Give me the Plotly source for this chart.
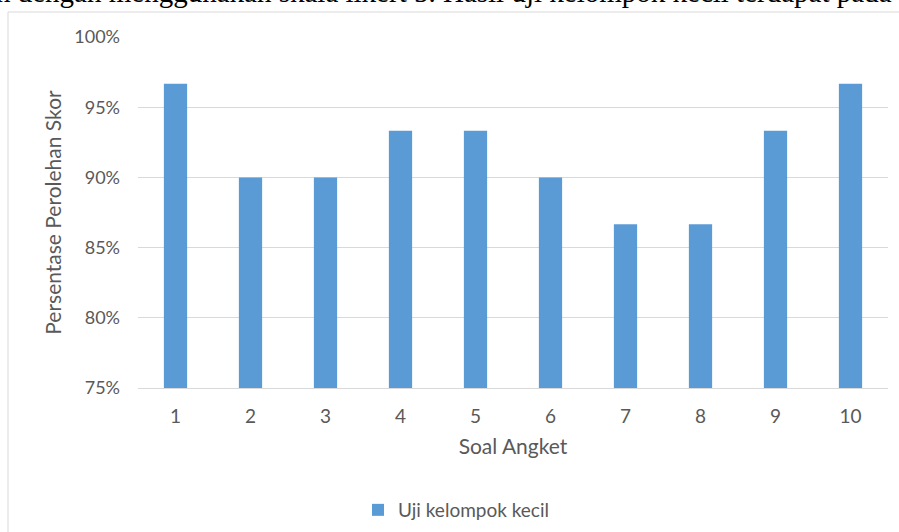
import plotly.graph_objects as go

# Questionnaire items and percentage score from the small-group trial
soal = ["1", "2", "3", "4", "5", "6", "7", "8", "9", "10"]
persentase = [0.9667, 0.90, 0.90, 0.9333, 0.9333, 0.90, 0.8667, 0.8667, 0.9333, 0.9667]
y_ticks = [0.75, 0.80, 0.85, 0.90, 0.95, 1.00]

W, H = 899, 532
L, R, T, B = 138, 11, 37, 144
pw, ph = W - L - R, H - T - B


def px_x(x):
    return (x - L) / pw


def px_y(y):
    return (H - B - y) / ph


GREY = "#595959"
FONT = "Lato, 'Open Sans', sans-serif"

fig = go.Figure()
fig.add_trace(go.Bar(
    x=soal, y=persentase, name="Uji kelompok kecil",
    marker=dict(color="#5B9BD5", line=dict(width=0)),
    width=0.31,
))

fig.update_layout(
    width=W, height=H,
    margin=dict(l=L, r=R, t=T, b=B, autoexpand=False),
    paper_bgcolor="white", plot_bgcolor="white",
    font=dict(family=FONT, color=GREY, size=14),
    showlegend=True,
    legend=dict(
        orientation="h", x=px_x(358), xanchor="left",
        y=px_y(510), yanchor="middle",
        font=dict(size=19, color=GREY),
        itemwidth=30, itemsizing="constant",
        bgcolor="rgba(0,0,0,0)",
    ),
    xaxis=dict(
        type="category", showgrid=False, ticks="", showline=True,
        linecolor="#D9D9D9", linewidth=1,
        tickfont=dict(size=19, color=GREY), ticklabelstandoff=11,
        title=dict(text="Soal Angket", font=dict(size=21, color=GREY), standoff=13),
    ),
    yaxis=dict(
        range=[0.75, 1.0], tickvals=y_ticks, tickformat=".0%",
        showgrid=True, gridcolor="#D9D9D9", gridwidth=1, zeroline=False,
        ticks="", ticklabelstandoff=17,
        tickfont=dict(size=18, color=GREY),
        title=dict(text="Persentase Perolehan Skor", font=dict(size=21, color=GREY), standoff=6),
    ),
    shapes=[dict(
        type="rect", xref="paper", yref="paper",
        x0=px_x(8), x1=px_x(905), y0=px_y(545), y1=px_y(12),
        line=dict(color="#D9D9D9", width=1), fillcolor="rgba(0,0,0,0)", layer="below",
    )],
    annotations=[dict(
        text="n dengan menggunakan skala likert 5. Hasil uji kelompok kecil terdapat pada",
        xref="paper", yref="paper", x=px_x(-6), y=px_y(10),
        xanchor="left", yanchor="bottom", showarrow=False,
        font=dict(family="'Liberation Serif', 'DejaVu Serif', serif", size=29, color="black"),
    )],
)

fig.write_html("out.html")
